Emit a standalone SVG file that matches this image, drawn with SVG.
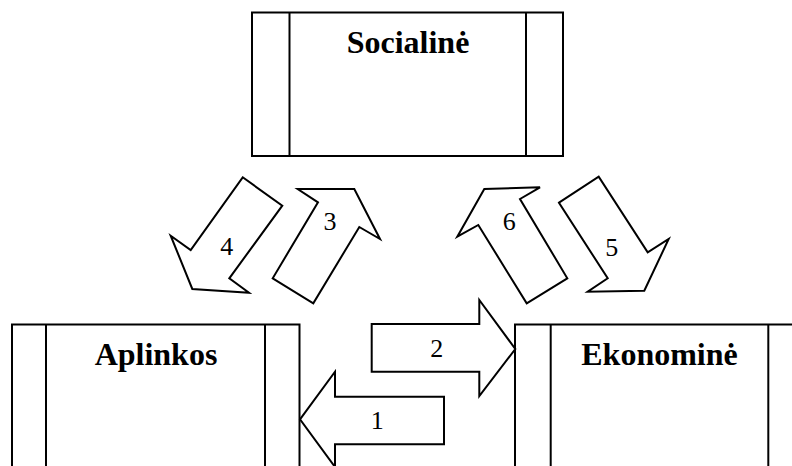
<svg xmlns="http://www.w3.org/2000/svg" width="792" height="466" viewBox="0 0 792 466">
<style>
.box{fill:#fff;stroke:#000;stroke-width:2}
.ln{stroke:#000;stroke-width:2}
.arr{fill:#fff;stroke:#000;stroke-width:2;stroke-linejoin:miter}
.title{font-family:'Liberation Serif','Tinos','DejaVu Serif','Noto Serif',serif;font-weight:bold;font-size:32px;text-anchor:middle;fill:#000}
.num{font-family:'Liberation Serif','Tinos','DejaVu Serif','Noto Serif',serif;font-size:26px;text-anchor:middle;fill:#000}
</style>
<rect width="792" height="466" fill="#fff"/>
<g id="socialine">
<rect class="box" x="252" y="12.5" width="311" height="143.5"/>
<line class="ln" x1="289.5" y1="12.5" x2="289.5" y2="156"/>
<line class="ln" x1="526" y1="12.5" x2="526" y2="156"/>
<text class="title" x="408" y="53" font-family="Liberation Serif, serif">Socialinė</text>
</g>
<g id="aplinkos">
<rect class="box" x="12" y="324.5" width="287.5" height="160"/>
<line class="ln" x1="46" y1="324.5" x2="46" y2="480"/>
<line class="ln" x1="265" y1="324.5" x2="265" y2="480"/>
<text class="title" x="156" y="365">Aplinkos</text>
</g>
<g id="ekonomine">
<rect class="box" x="515" y="324.5" width="290" height="160"/>
<line class="ln" x1="550.7" y1="324.5" x2="550.7" y2="480"/>
<line class="ln" x1="768.3" y1="324.5" x2="768.3" y2="480"/>
<text class="title" x="659.5" y="365">Ekonominė</text>
</g>
<g id="connectors">
<g id="arrow1">
<polygon class="arr" points="300,419.3 335,371.7 335,396.7 444,396.7 444,444.3 335,444.3 335,467"/>
<text class="num" x="377.3" y="428.5">1</text>
</g>
<g id="arrow2">
<polygon class="arr" points="371.7,324 479.3,324 479.3,300 515.3,349 479.3,396 479.3,371.7 371.7,371.7"/>
<text class="num" x="436.7" y="357">2</text>
</g>
<g id="arrow3">
<polygon class="arr" points="272.7,278.3 313.3,303.3 359.3,227 380,239 354.3,189 297.7,189 318,202.3"/>
<text class="num" x="330" y="230">3</text>
</g>
<g id="arrow4">
<polygon class="arr" points="242.7,177.3 282.3,205.7 229.3,278.3 249,292.7 192.3,289 170.7,235.7 190.7,250"/>
<text class="num" x="226.7" y="255">4</text>
</g>
<g id="arrow5">
<polygon class="arr" points="559,202.7 598.7,176.7 647.7,252.3 668.7,239 644.3,290.7 587.7,291.7 607.7,278.3"/>
<text class="num" x="611.7" y="256">5</text>
</g>
<g id="arrow6">
<polygon class="arr" points="526.7,303.3 567.3,278.3 520,199 540,187.3 484.3,189 457.3,236.7 478.3,225"/>
<text class="num" x="509.3" y="230">6</text>
</g>
</g>
</svg>
